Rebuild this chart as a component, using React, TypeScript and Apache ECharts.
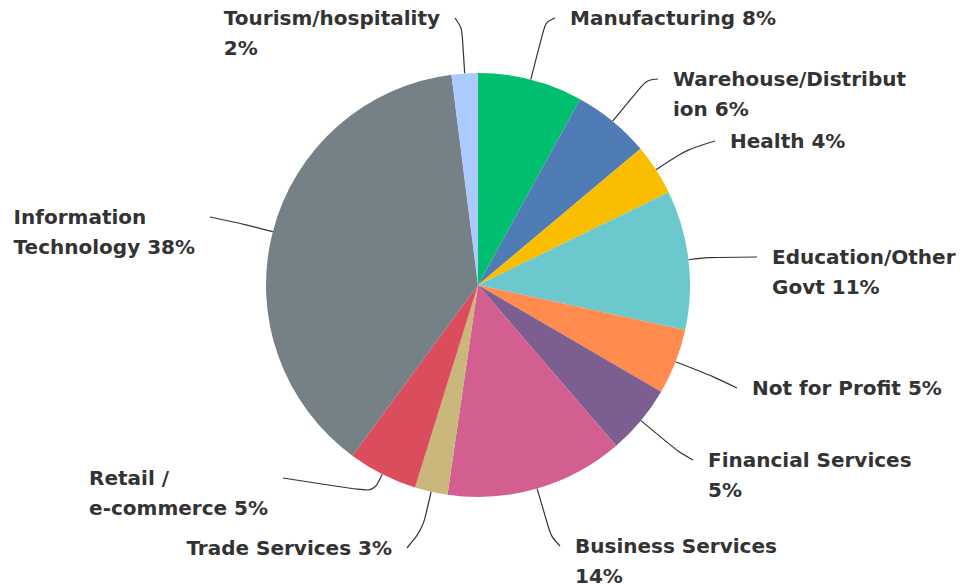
import { useEffect, useRef } from "react";
import * as echarts from "echarts";

// ---- data ----
const categories = [
  "Manufacturing",
  "Warehouse/Distribution",
  "Health",
  "Education/Other Govt",
  "Not for Profit",
  "Financial Services",
  "Business Services",
  "Trade Services",
  "Retail / e-commerce",
  "Information Technology",
  "Tourism/hospitality",
];
const values = [8.0, 5.9, 3.9, 10.6, 5.0, 5.3, 13.6, 2.5, 5.3, 37.9, 2.0];
const colors = [
  "#00BF6F",
  "#507CB6",
  "#F9BE00",
  "#6BC8CD",
  "#FF8B4F",
  "#7D5E90",
  "#D25F90",
  "#C9B77C",
  "#DB4D5C",
  "#768087",
  "#ABCBFF",
];
// character index at which each label wraps onto a second line (0 = no wrap)
const lineBreakAt = [0, 19, 0, 15, 0, 18, 17, 0, 8, 11, 19];

// ---- layout ----
const W = 963;
const H = 588;
const CX = 478;
const CY = 285;
const R = 212;
const LINE_H = 30;
const GAP = 15;
// side: 1 right (x = text left), -1 left (x = block right edge); y = first-line centre; leg = radial leg length
const placement = [
  { side: 1, x: 570, y: 18, leg: 59 },
  { side: 1, x: 673, y: 79, leg: 53 },
  { side: 1, x: 730, y: 141, leg: 38 },
  { side: 1, x: 772, y: 257, leg: 20 },
  { side: 1, x: 752, y: 388, leg: 40 },
  { side: 1, x: 708, y: 460, leg: 48 },
  { side: 1, x: 575, y: 546, leg: 50 },
  { side: -1, x: 392, y: 548, leg: 38 },
  { side: -1, x: 268, y: 478, leg: 20 },
  { side: -1, x: 195, y: 217, leg: 30 },
  { side: -1, x: 440, y: 18, leg: 46 },
];

function labelText(i: number): string {
  const full = `${categories[i]} ${Math.round(values[i])}%`;
  const b = lineBreakAt[i];
  if (!b) return `{t|${full}}`;
  const a = full.slice(0, b).trimEnd();
  const c = full.slice(b).trimStart();
  return `{t|${a}}\n{t|${c}}`;
}

export default function App() {
  const ref = useRef<HTMLDivElement>(null);
  useEffect(() => {
    if (!ref.current) return;
    const chart = echarts.init(ref.current, undefined, { renderer: "svg" });
    const total = values.reduce((s, v) => s + v, 0);
    const cums: number[] = [];
    values.reduce((s, v, i) => {
      cums[i] = s;
      return s + v;
    }, 0);

    chart.setOption({
      animation: false,
      backgroundColor: "#ffffff",
      series: [
        {
          type: "pie",
          center: [CX, CY],
          radius: R,
          startAngle: 90,
          clockwise: true,
          avoidLabelOverlap: false,
          data: categories.map((name, i) => ({
            name,
            value: values[i],
            itemStyle: { color: colors[i] },
          })),
          itemStyle: { borderWidth: 0 },
          label: {
            show: true,
            position: "outside",
            formatter: (p: any) => labelText(p.dataIndex),
            overflow: "none",
            rich: {
              t: {
                align: "left",
                fontFamily: "DejaVu Sans",
                fontWeight: "bold",
                fontSize: 20,
                lineHeight: LINE_H,
                color: "#333333",
              },
            },
          },
          labelLine: {
            show: true,
            length: 4,
            length2: 4,
            smooth: 0.3,
            lineStyle: { color: "#333333", width: 1.2 },
          },
          labelLayout: (p: any) => {
            const i = p.dataIndex;
            const pl = placement[i];
            const th = ((cums[i] + values[i] / 2) / total) * Math.PI * 2;
            const sx = CX + R * Math.sin(th);
            const sy = CY - R * Math.cos(th);
            const bx = CX + (R + pl.leg) * Math.sin(th);
            const by = CY - (R + pl.leg) * Math.cos(th);
            const ex = pl.side > 0 ? pl.x - GAP : pl.x + GAP;
            const left = pl.side > 0 ? pl.x : pl.x - p.labelRect.width;
            return {
              x: left,
              y: pl.y - LINE_H / 2,
              align: "left",
              verticalAlign: "top",
              labelLinePoints: [
                [sx, sy],
                [bx, by],
                [ex, pl.y],
              ],
            };
          },
        },
      ],
    });
    return () => chart.dispose();
  }, []);
  return (
    <div
      ref={ref}
      style={{ position: "absolute", left: 0, top: 0, width: W, height: H }}
    />
  );
}
